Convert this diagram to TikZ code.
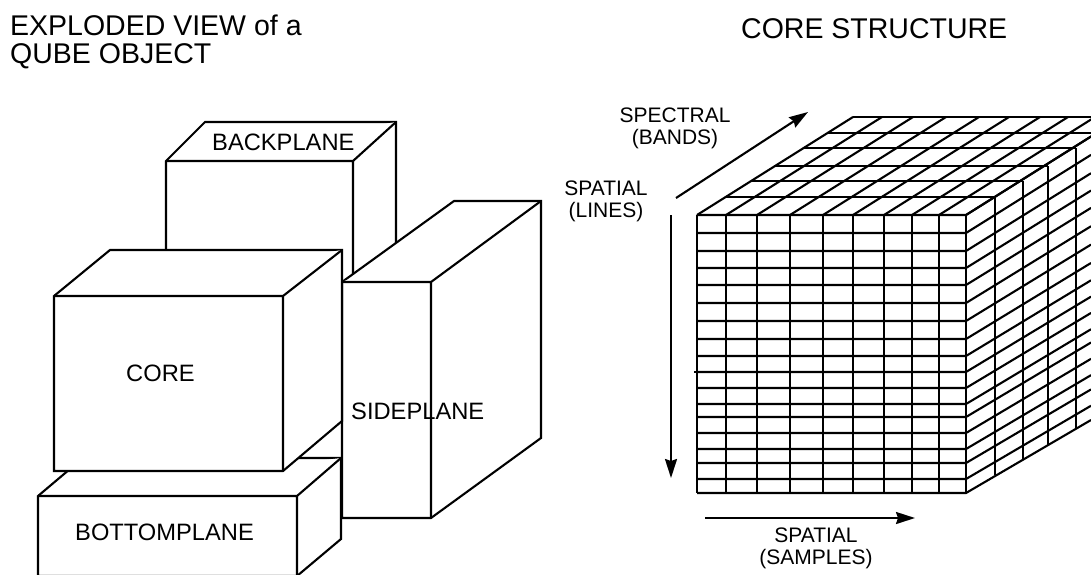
\documentclass[tikz,border=0pt]{standalone}
\usepackage{fontspec}
\setmainfont{Liberation Sans}
\usetikzlibrary{arrows.meta, positioning}
\tikzset{
    >={Stealth[length=19pt, width=12pt, inset=2pt]}, % makes the arrow heads bold
    plane/.style={draw, fill=white, line width=2.1pt, line join=miter},
    grid line/.style={draw, line width=2.1pt},
    title/.style={font=\fontsize{28.5}{30}\selectfont, inner sep=0pt, align=left},
    box label/.style={font=\fontsize{23.7}{26}\selectfont, inner sep=0pt},
    axis label/.style={font=\fontsize{21}{22}\selectfont, inner sep=0pt, align=center},
}
\tikzstyle{arrow} = [line width=2.1pt, ->]

\begin{document}
\begin{tikzpicture}[x=1pt, y=-1pt]
        \path[use as bounding box, clip] (0,0) rectangle (1091,574);

        % exploded view
        \draw[plane] (166,161) -- (205,122) -- (396,122) -- (396,300) -- (166,300) -- cycle;
        \draw[plane] (166,161) -- (353,161) -- (396,122) (353,161) -- (353,300);
        \draw[plane] (342,282) -- (454,201) -- (541,201) -- (541,438) -- (431,518) -- (342,518) -- cycle;
        \draw[plane] (342,282) -- (431,282) -- (541,201) (431,282) -- (431,518);
        \draw[plane] (38,496) -- (83,458) -- (341,458) -- (341,539) -- (297,576) -- (38,576) -- cycle;
        \draw[plane] (38,496) -- (297,496) -- (341,458) (297,496) -- (297,576);
        \draw[plane] (54,296) -- (110,250) -- (342,250) -- (342,421) -- (283,471) -- (54,471) -- cycle;
        \draw[plane] (54,296) -- (283,296) -- (342,250) (283,296) -- (283,471);

        \node[title, anchor=west] (qube) at (10,42) {EXPLODED VIEW of a\\[-2pt]QUBE OBJECT};
        \node[box label, anchor=west] (backplane) at (212,142) {BACKPLANE};
        \node[box label, anchor=west] (core) at (126,373) {CORE};
        \node[box label, anchor=west] (sideplane) at (351,411) {SIDEPLANE};
        \node[box label, anchor=west] (bottomplane) at (75,532) {BOTTOMPLANE};

        % core structure
        \foreach \x in {697,726,757,790,823,853,884,912,939,966}{
            \draw[grid line] (\x,215) -- (\x,493);
            \draw[grid line] (\x,215) -- ++(156,-98);
        }
        \foreach \y in {215,233,251,268,285,303,321,339,356,372,388,404,417,433,449,463,479,493}{
            \pgfmathsetmacro{\slope}{.628-.044*(\y-215)/278}
            \draw[grid line] (697,\y) -- (966,\y) -- ++(125,-125*\slope);
        }
        \draw[grid line] (694,372) -- (697,372);
        \foreach \y/\xstart/\xend in {197/726/995,181/751/1023,166/775/1048,148/804/1076,133/828/1091,117/853/1091}{
            \draw[grid line] (\xstart,\y) -- (\xend,\y);
        }
        \foreach \x/\ytop/\ybot in {995/197/475,1023/181/459,1048/166/445,1076/148/429}{
            \draw[grid line] (\x,\ytop) -- (\x,\ybot);
        }

        \coordinate (bands start) at (676,198);
        \coordinate (bands end) at (808,112);
        \coordinate (lines start) at (671,215);
        \coordinate (lines end) at (671,478);
        \coordinate (samples start) at (705,518);
        \coordinate (samples end) at (915,518);
        \draw[arrow] (bands start) -- (bands end);
        \draw[arrow] (lines start) -- (lines end);
        \draw[arrow] (samples start) -- (samples end);

        \node[title, anchor=west] (structure) at (741,29) {CORE STRUCTURE};
        \node[axis label] (bands) at (675,128) {SPECTRAL\\(BANDS)};
        \node[axis label] (lines) at (606,201) {SPATIAL\\(LINES)};
        \node[axis label] (samples) at (816,548) {SPATIAL\\(SAMPLES)};
    \end{tikzpicture}
\end{document}
